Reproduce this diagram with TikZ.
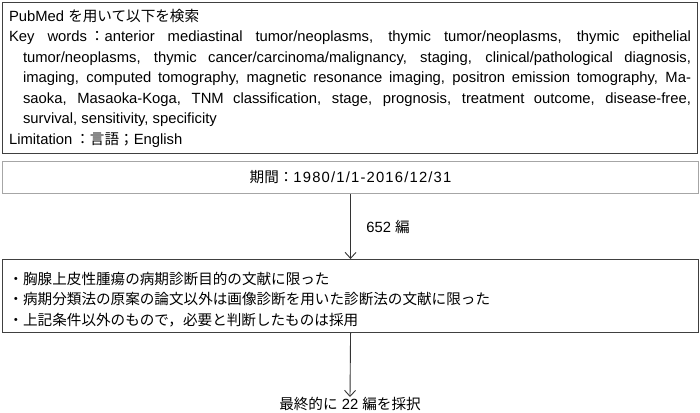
\documentclass[tikz,border=0pt]{standalone}
\usepackage{fontspec}
\setmainfont{Liberation Sans}
\newfontfamily\jp[Scale=0.986]{Noto Sans CJK JP}
\usetikzlibrary{arrows.meta}

\begin{document}
\begin{tikzpicture}[x=1pt,y=-1pt,
    font=\fontsize{14.8}{20.5}\selectfont,
    box/.style={draw=black!75,line width=1.1pt,inner sep=0pt,anchor=north west},
    link/.style={draw=black!80,line width=0.9pt,-{Straight Barb[length=6pt,width=11pt]}}]
  \useasboundingbox (0,0) rectangle (700,412);
  % search terms
  \node[box,minimum width=695,minimum height=151,text width=682,align=justify] (search) at (2,2) {%
    PubMed {\jp を用いて以下を検索}\par
    \hangindent=14pt\hangafter=1 Key words\kern3pt{\jp ：}anterior mediastinal tumor/neoplasms, thymic tumor/neoplasms, thymic epithelial\linebreak
    tumor/neoplasms, thymic cancer/carcinoma/malignancy, staging, clinical/pathological diagnosis,\linebreak
    imaging, computed tomography, magnetic resonance imaging, positron emission tomography, Ma-\linebreak
    saoka, Masaoka-Koga, TNM classification, stage, prognosis, treatment outcome, disease-free,\linebreak
    survival, sensitivity, specificity\par
    Limitation\kern3pt{\jp ：言語；}English};
  \node[box,draw=black!35,minimum width=696,minimum height=32] (period) at (2,161) {{\jp 期間：}{\addfontfeature{LetterSpace=8}1980/1/1-2016/12/31}};
  \node[box,minimum width=696,minimum height=73,text width=684,align=left] (criteria) at (2,259) {%
    \rule{0pt}{19pt}{\jp ・胸腺上皮性腫瘍の病期診断目的の文献に限った}\\
    {\jp ・病期分類法の原案の論文以外は画像診断を用いた診断法の文献に限った}\\
    {\jp ・上記条件以外のもので，必要と判断したものは採用}};
  \node[anchor=north,inner sep=0pt] (result) at (350,397) {{\jp 最終的に} 22 {\jp 編を採択}};
  % arrows
  \draw[link] (period.south) -- node[right=12pt,midway] (count) {652 {\jp 編}} (criteria.north);
  \draw[link] (criteria.south) -- (result.north);
\end{tikzpicture}
\end{document}
